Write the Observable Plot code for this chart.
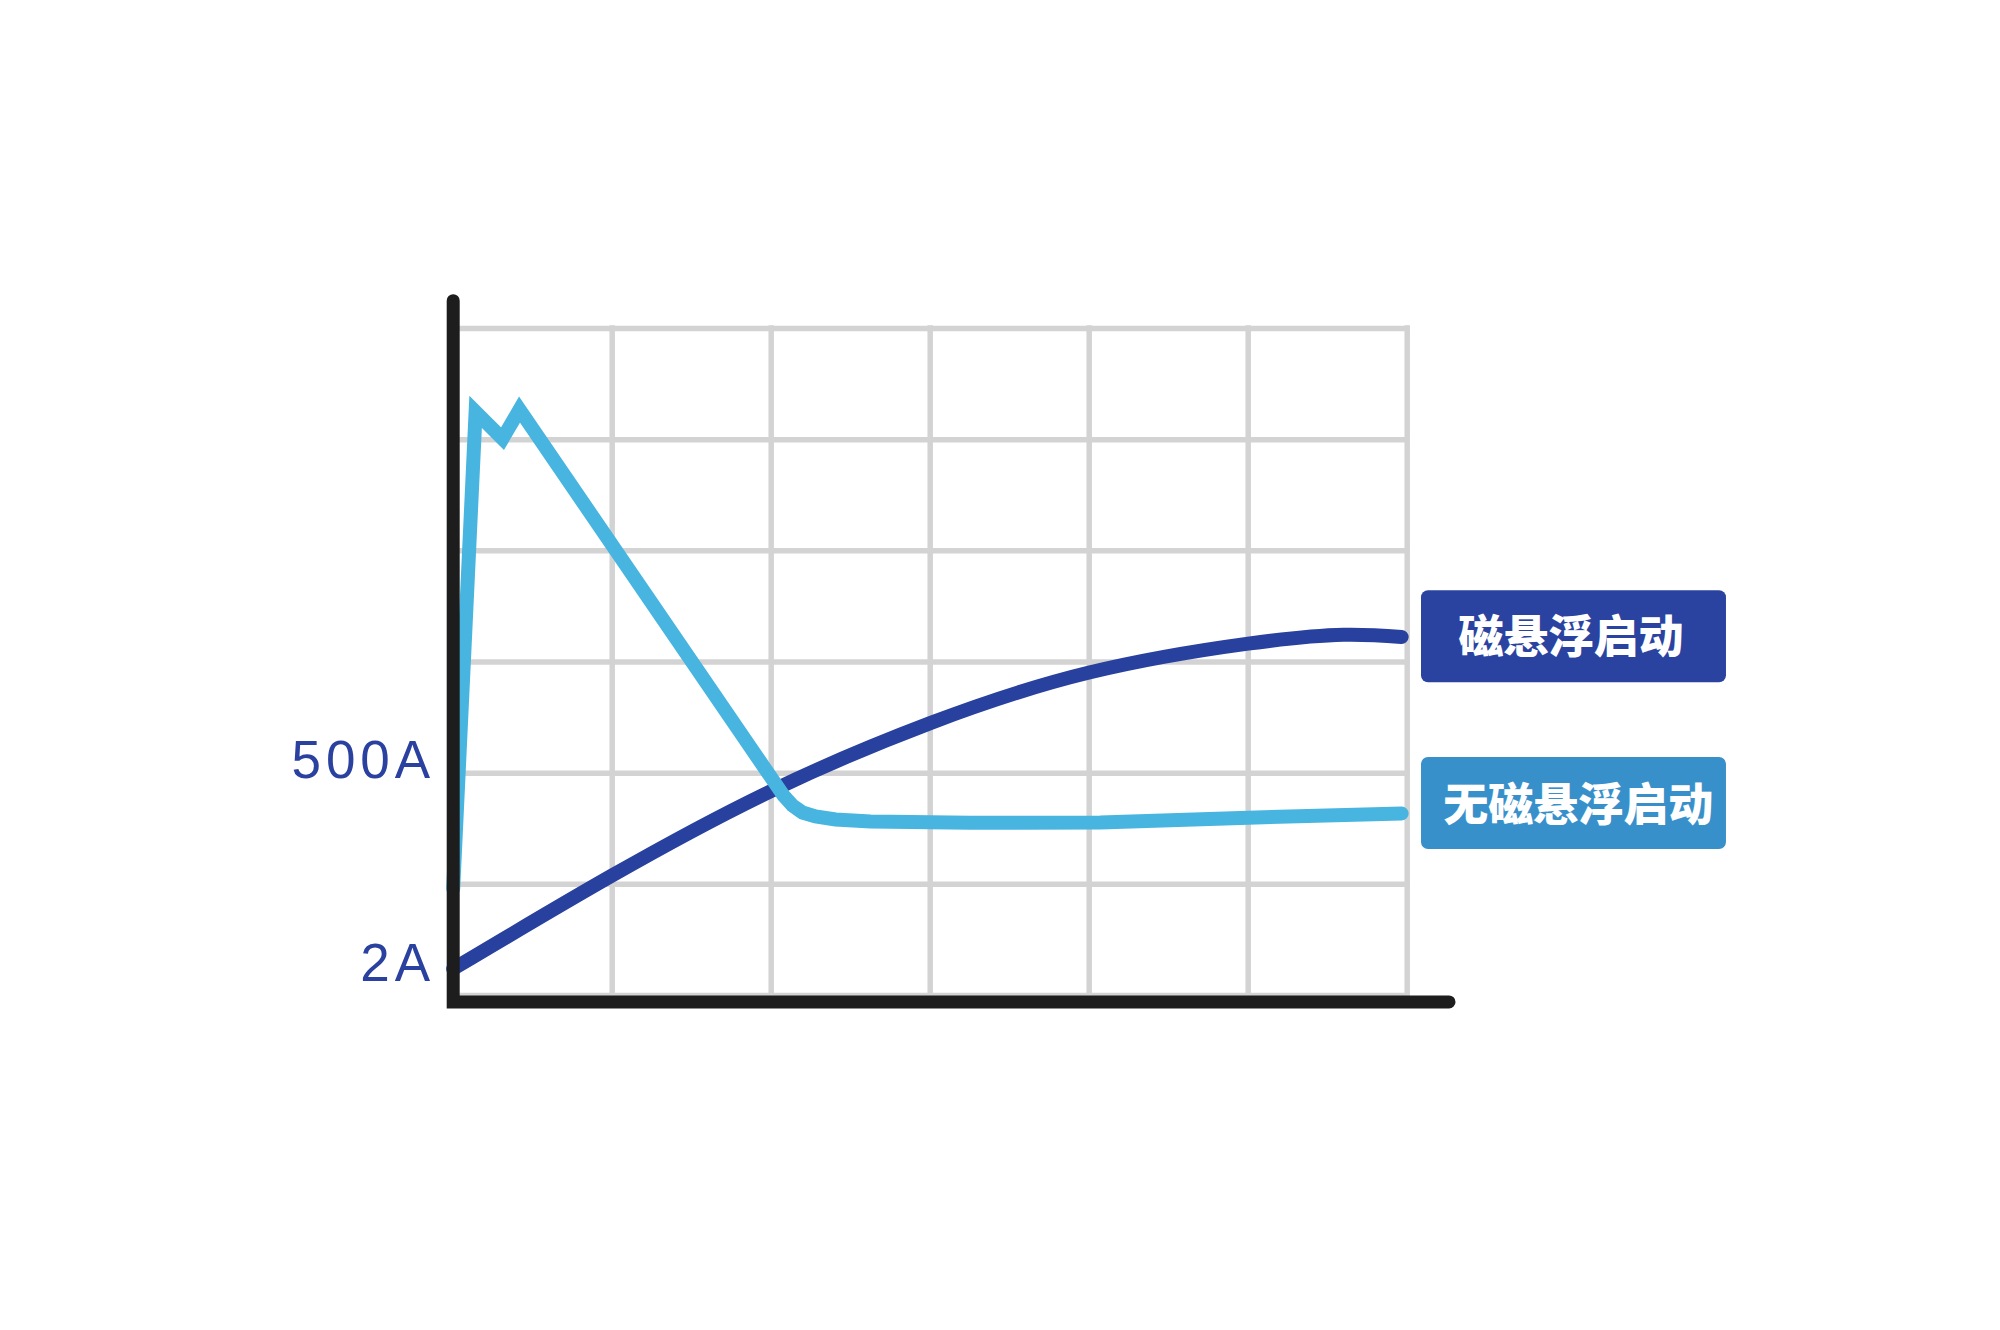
<!DOCTYPE html>
<html>
<head>
<meta charset="utf-8">
<script src="https://cdn.jsdelivr.net/npm/d3@7"></script>
<script src="https://cdn.jsdelivr.net/npm/@observablehq/plot@0.6"></script>
<style>
  html, body { margin: 0; padding: 0; background: #ffffff; }
  #chart svg { display: block; }
</style>
</head>
<body>
<div id="chart"></div>
<script>
// ---- data (chart grid units: 6 columns x 6 rows) ----
const seriesNames = ["磁悬浮启动", "无磁悬浮启动"];

// 磁悬浮启动 (maglev start) – smooth rising curve
const maglevX = [0, 1.0, 2.0, 3.0, 4.0, 5.0, 5.6, 5.965];
const maglevY = [0.24, 1.08, 1.84, 2.45, 2.905, 3.165, 3.245, 3.225];

// 无磁悬浮启动 (non-maglev start) – inrush spike then plateau
const plainX = [0, 0.141, 0.31, 0.417, 2.077, 2.134, 2.197, 2.279, 2.405, 2.625, 3.254, 4.07, 5.0, 5.965];
const plainY = [0.962, 5.25, 5.009, 5.27, 1.799, 1.709, 1.646, 1.61, 1.583, 1.565, 1.553, 1.556, 1.60, 1.637];

// y tick labels
const yTickPos = [0.28, 2.11];
const yTickLabels = ["2A", "500A"];

// grid lines
const gridX = [0, 1, 2, 3, 4, 5, 6];
const gridY = [0, 1, 2, 3, 4, 5, 6];

// ---- styling / layout (not data) ----
const DARK = "#28409e";
const LIGHT = "#47b5e0";
const LEGEND_FILL = ["#2a42a0", "#3890cb"];
const AXIS = { xEnd: 6.263, yTop: 6.25, yBase: -0.058 };
const LEGEND = { x1: 6.09, x2: 8.008, half: 0.414, yc: [3.228, 1.727], xText: [7.03, 7.075], yText: [3.215, 1.70] };

const maglev = maglevX.map((x, i) => ({ x, y: maglevY[i] }));
const plain = plainX.map((x, i) => ({ x, y: plainY[i] }));
const axisFrame = [
  { x: 0, y: AXIS.yTop },
  { x: 0, y: AXIS.yBase },
  { x: AXIS.xEnd, y: AXIS.yBase }
];
const legend = seriesNames.map((name, i) => ({
  name,
  fill: LEGEND_FILL[i],
  yc: LEGEND.yc[i],
  xt: LEGEND.xText[i],
  yt: LEGEND.yText[i]
}));
const ticks = yTickPos.map((p, i) => ({ p, label: yTickLabels[i] }));

const chart = Plot.plot({
  width: 2000,
  height: 1330,
  marginLeft: 452.7,
  marginRight: 593.3,
  marginTop: 328,
  marginBottom: 335,
  x: { domain: [0, 6], axis: null },
  y: { domain: [0, 6], axis: null },
  style: { background: "#ffffff", overflow: "visible" },
  marks: [
    // grid
    Plot.ruleX(gridX, { y1: 0, y2: 6, stroke: "#d3d3d3", strokeWidth: 5.5, strokeOpacity: 1, strokeLinecap: "square" }),
    Plot.ruleY(gridY, { x1: 0, x2: 6, stroke: "#d3d3d3", strokeWidth: 5.5, strokeOpacity: 1, strokeLinecap: "square" }),
    // series
    Plot.line(maglev, { x: "x", y: "y", curve: "natural", stroke: DARK, strokeWidth: 14, strokeLinecap: "round", strokeLinejoin: "round" }),
    Plot.line(plain, { x: "x", y: "y", curve: "linear", stroke: LIGHT, strokeWidth: 14, strokeLinecap: "round", strokeLinejoin: "miter", strokeMiterlimit: 6 }),
    // axis frame
    Plot.line(axisFrame, { x: "x", y: "y", stroke: "#1d1d1d", strokeWidth: 13, strokeLinecap: "round", strokeLinejoin: "miter", strokeMiterlimit: 10 }),
    // y tick labels
    Plot.text(ticks, {
      x: 0, y: "p", text: "label", textAnchor: "end", dx: -18,
      fill: "#2b41a0", fontSize: 53, fontFamily: "Liberation Sans, Arial, sans-serif"
    }),
    // legend boxes
    Plot.rect(legend, {
      x1: LEGEND.x1, x2: LEGEND.x2,
      y1: d => d.yc - LEGEND.half, y2: d => d.yc + LEGEND.half,
      fill: "fill", rx: 7
    }),
    Plot.text(legend, {
      x: "xt", y: "yt", text: "name", fill: "#ffffff",
      fontSize: 45, fontWeight: 900, fontFamily: "Noto Sans CJK SC, sans-serif"
    })
  ]
});

// apply letter spacing to the tick-label texts (by their content)
d3.select(chart).selectAll("text")
  .filter(function () { return yTickLabels.includes(this.textContent); })
  .attr("letter-spacing", "5px")
  .style("letter-spacing", "5px");
document.getElementById("chart").appendChild(chart);
</script>
</body>
</html>
